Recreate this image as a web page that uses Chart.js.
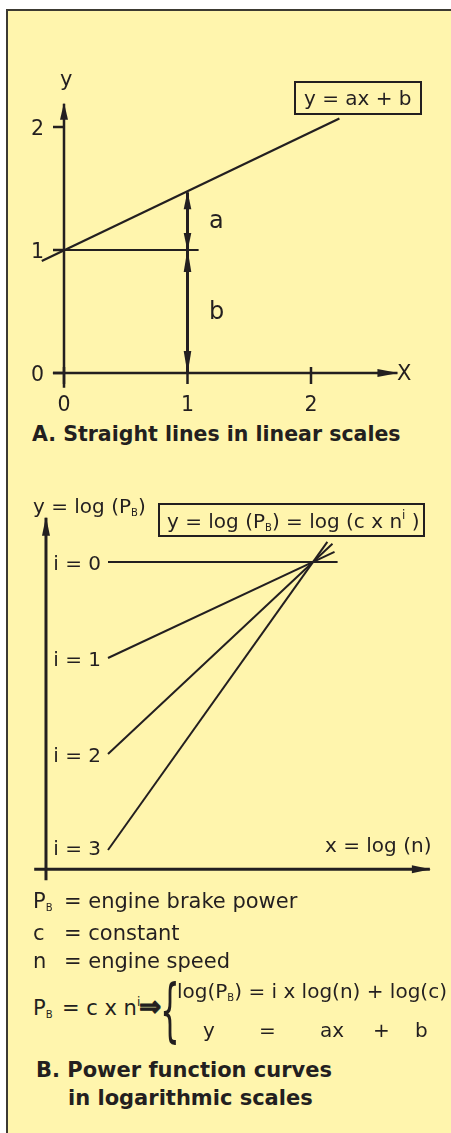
<!DOCTYPE html>
<html>
<head>
<meta charset="utf-8">
<script src="https://cdn.jsdelivr.net/npm/chart.js@4.4.1/dist/chart.umd.min.js"></script>
<style>
html, body { margin: 0; padding: 0; background: #fff; }
body { width: 451px; height: 1133px; position: relative; overflow: hidden; font-family: "DejaVu Sans", sans-serif; color: #231f20; }
#panel { position: absolute; left: 6px; top: 9px; width: 450px; height: 1130px; background: #fff5ad; border-left: 2px solid #3c3a32; border-top: 2px solid #3c3a32; }
canvas { position: absolute; left: 0; }
#chartA { top: 0; }
#chartB { top: 460px; }
.t { position: absolute; font-size: 20px; line-height: 20px; white-space: nowrap; z-index: 2; }
.b { font-weight: bold; }
.box { position: absolute; box-sizing: border-box; border: 2px solid #231f20; z-index: 2; }
.sub { font-size: 10px; position: relative; top: 3px; }
.sup { font-size: 12px; position: relative; top: -9px; }
</style>
</head>
<body>
<div id="panel"></div>
<canvas id="chartA" width="451" height="420"></canvas>
<canvas id="chartB" width="451" height="440"></canvas>

<!-- panel A text -->
<div class="t" style="left:60px;top:69px;font-size:21px">y</div>
<div class="box" style="left:294px;top:81px;width:128px;height:34px"></div>
<div class="t" style="left:304px;top:88px">y = ax + b</div>
<div class="t" style="left:209px;top:208px;font-size:24px;line-height:24px">a</div>
<div class="t" style="left:209px;top:299px;font-size:24px;line-height:24px">b</div>
<div class="t" style="left:397px;top:363px;font-size:21px">X</div>
<div class="t b" style="left:32px;top:424px;font-size:20.5px">A. Straight lines in linear scales</div>

<!-- panel B text -->
<div class="t" style="left:33px;top:496px">y = log (P<span class="sub">B</span>)</div>
<div class="box" style="left:158px;top:503px;width:267px;height:34px"></div>
<div class="t" style="left:167px;top:511px">y = log (P<span class="sub">B</span>) = log (c x n<span class="sup">i</span> )</div>
<div class="t" style="left:325px;top:835px">x = log (n)</div>

<div class="t" style="left:33px;top:891px;font-size:21px">P<span class="sub">B</span></div>
<div class="t" style="left:64px;top:891px;font-size:21px">= engine brake power</div>
<div class="t" style="left:33px;top:923px;font-size:21px">c</div>
<div class="t" style="left:64px;top:923px;font-size:21px">=&nbsp;constant</div>
<div class="t" style="left:33px;top:951px;font-size:21px">n</div>
<div class="t" style="left:64px;top:951px;font-size:21px">=&nbsp;engine speed</div>
<div class="t" style="left:33px;top:998px;font-size:21px">P<span class="sub">B</span></div>
<div class="t" style="left:62px;top:998px;font-size:21px">= c x n<span class="sup">i</span></div>
<div class="t b" style="left:139px;top:993px;font-size:28px;line-height:28px;-webkit-text-stroke:1px #231f20;transform:scaleX(0.95);transform-origin:left top">⇒</div>
<div class="t" style="left:160px;top:976px;font-size:69px;line-height:69px;transform:scaleX(0.45);transform-origin:left top">{</div>
<div class="t" style="left:177px;top:981px">log(P<span class="sub">B</span>) = i x log(n) + log(c)</div>
<div class="t" style="left:203px;top:1020px">y</div>
<div class="t" style="left:259px;top:1020px">=</div>
<div class="t" style="left:320px;top:1020px">ax</div>
<div class="t" style="left:373px;top:1020px">+</div>
<div class="t" style="left:415px;top:1020px">b</div>
<div class="t b" style="left:36px;top:1060px;font-size:21px">B. Power function curves</div>
<div class="t b" style="left:68px;top:1088px;font-size:21px">in logarithmic scales</div>

<script>
const ink = '#231f20'

// panel A values (linear scales)
const fitX = [-0.18, 2.23]
const fitY = [0.91, 2.07]
const oneLineX = [-0.02, 1.09]
const oneLineY = [1, 1]
const aArrowY = [1.47, 1]
const bArrowY = [1, 0]
const arrowAtX = 1
const xAxisA = [-0.09, 2.70]
const yAxisA = [-0.12, 2.19]
const xTicksA = [0, 1, 2]
const yTicksA = [0, 1, 2]
const tickLabelsA = ['0', '1', '2']

// panel B values (logarithmic scales, in log units)
const iValues = [0, 1, 2, 3]
const startX = [1, 1, 1, 1]
const startY = [8, 6, 4, 2]
const endX = [3.24, 3.21, 3.19, 3.14]
const endY = [8, 8.21, 8.38, 8.42]
const xAxisB = [0.28, 4.14]
const yAxisB = [1.37, 8.92]
const xAxisBAt = 1.6
const yAxisBAt = 0.395

function pts(xs, ys){
	return xs.map((x, k) => ({x: x, y: ys[k]}))
}

function seg(data, width, heads, len, half){
	return {
		data: data,
		showLine: true,
		borderColor: ink,
		backgroundColor: ink,
		borderWidth: width,
		pointRadius: 0,
		clip: false,
		heads: heads || [],
		headLen: len || 0,
		headHalf: half || 0
	}
}

const arrowHeads = {
	id: 'arrowHeads',
	afterDatasetsDraw(chart){
		const ctx = chart.ctx
		chart.data.datasets.forEach((ds, k) => {
			const p = chart.getDatasetMeta(k).data
			ds.heads.forEach(h => {
				const tip = h == 'end' ? p[p.length - 1] : p[0]
				const back = h == 'end' ? p[p.length - 2] : p[1]
				const ang = Math.atan2(tip.y - back.y, tip.x - back.x)
				const c = Math.cos(ang), s = Math.sin(ang)
				const L = ds.headLen, W = ds.headHalf
				ctx.save()
				ctx.fillStyle = ink
				ctx.beginPath()
				ctx.moveTo(tip.x + c, tip.y + s)
				ctx.lineTo(tip.x - L * c + W * s, tip.y - L * s - W * c)
				ctx.lineTo(tip.x - L * c - W * s, tip.y - L * s + W * c)
				ctx.closePath()
				ctx.fill()
				ctx.restore()
			})
		})
	}
}

const ticksA = {
	id: 'ticksA',
	afterDatasetsDraw(chart){
		const ctx = chart.ctx
		const sx = chart.scales.x, sy = chart.scales.y
		const x0 = sx.getPixelForValue(0), y0 = sy.getPixelForValue(0)
		ctx.save()
		ctx.strokeStyle = ink
		ctx.fillStyle = ink
		ctx.lineWidth = 2.5
		ctx.font = '20.5px "DejaVu Sans"'
		ctx.textBaseline = 'alphabetic'
		yTicksA.forEach((v, k) => {
			const py = sy.getPixelForValue(v)
			ctx.beginPath(); ctx.moveTo(x0 - 11, py); ctx.lineTo(x0, py); ctx.stroke()
			ctx.textAlign = 'right'
			ctx.fillText(tickLabelsA[k], x0 - 20, py + 7.5)
		})
		xTicksA.forEach((v, k) => {
			const px = sx.getPixelForValue(v)
			ctx.beginPath(); ctx.moveTo(px, y0 - 6); ctx.lineTo(px, y0 + 11); ctx.stroke()
			ctx.textAlign = 'center'
			ctx.fillText(tickLabelsA[k], px, y0 + 38)
		})
		ctx.restore()
	}
}

const curveLabels = {
	id: 'curveLabels',
	afterDatasetsDraw(chart){
		const ctx = chart.ctx
		const sx = chart.scales.x, sy = chart.scales.y
		ctx.save()
		ctx.fillStyle = ink
		ctx.font = '20px "DejaVu Sans"'
		ctx.textAlign = 'right'
		ctx.textBaseline = 'alphabetic'
		iValues.forEach((i, k) => {
			const px = sx.getPixelForValue(startX[k])
			let py = sy.getPixelForValue(startY[k])
			if (i == 3) py -= 3
			ctx.fillText('i = ' + i, px - 7, py + 8)
		})
		ctx.restore()
	}
}

function baseOptions(xmin, xmax, ymin, ymax, pad){
	return {
		responsive: false,
		animation: false,
		events: [],
		layout: {padding: pad},
		plugins: {legend: {display: false}, tooltip: {enabled: false}, title: {display: false}},
		scales: {
			x: {type: 'linear', min: xmin, max: xmax, display: false},
			y: {type: 'linear', min: ymin, max: ymax, display: false}
		}
	}
}

// A: px = 64 + 123.5 x ; py = 373 - 123 y
new Chart(document.getElementById('chartA'), {
	type: 'scatter',
	data: {
		datasets: [
			seg(pts(xAxisA, [0, 0]), 2.5, ['end'], 20, 4),
			seg(pts([0, 0], yAxisA), 2.5, ['end'], 16, 4),
			seg(pts(fitX, fitY), 2.2),
			seg(pts(oneLineX, oneLineY), 2),
			seg(pts([arrowAtX, arrowAtX], aArrowY), 3, ['start', 'end'], 17, 3.8),
			seg(pts([arrowAtX, arrowAtX], bArrowY), 3, ['start', 'end'], 22, 3.8)
		]
	},
	options: baseOptions(-0.5, 3.0, -0.3, 3.0, {left: 2.25, right: 16.5, top: 4, bottom: 10.1}),
	plugins: [arrowHeads, ticksA]
})

// B: px = 5.5 + 102.5 x ; py(canvas) = 486 - 48 y
const curveSets = iValues.map((i, k) => seg(pts([startX[k], endX[k]], [startY[k], endY[k]]), 2))
new Chart(document.getElementById('chartB'), {
	type: 'scatter',
	data: {
		datasets: [
			seg(pts(xAxisB, [xAxisBAt, xAxisBAt]), 3, ['end'], 18, 4),
			seg(pts([yAxisBAt, yAxisBAt], yAxisB), 3, ['end'], 18, 4)
		].concat(curveSets)
	},
	options: baseOptions(0, 4.3, 1.0, 9.5, {left: 5.5, right: 4.75, top: 30, bottom: 2}),
	plugins: [arrowHeads, curveLabels]
})
</script>
</body>
</html>
